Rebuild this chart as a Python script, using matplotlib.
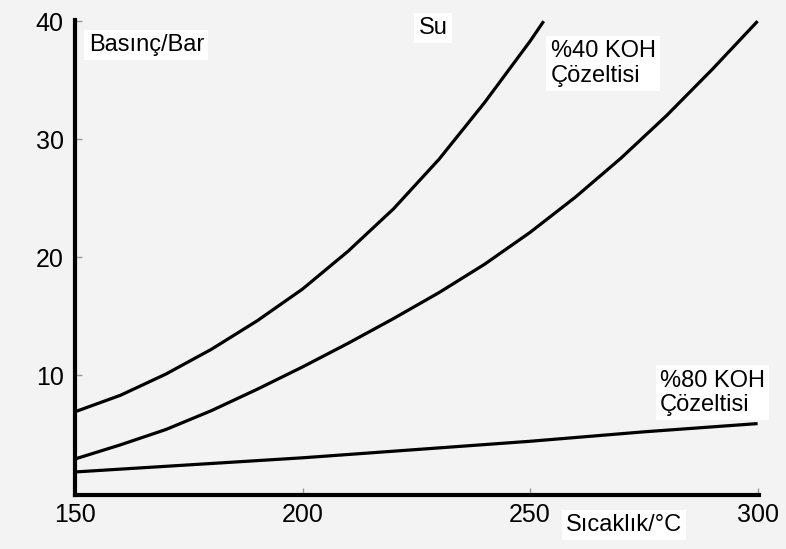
import matplotlib.pyplot as plt

plt.rcParams["font.family"] = ["Liberation Sans", "DejaVu Sans"]

# values
su_temp = [150, 160, 170, 180, 190, 200, 210, 220, 230, 240, 250, 253]
su_bar = [6.9, 8.3, 10.1, 12.2, 14.6, 17.3, 20.5, 24.1, 28.3, 33.1, 38.3, 40.0]

koh40_temp = [150, 160, 170, 180, 190, 200, 210, 220, 230, 240, 250, 260, 270, 280, 290, 300]
koh40_bar = [2.9, 4.1, 5.4, 7.0, 8.8, 10.7, 12.7, 14.8, 17.0, 19.4, 22.1, 25.1, 28.4, 32.0, 35.9, 40.0]

koh80_temp = [150, 175, 200, 225, 250, 275, 300]
koh80_bar = [1.8, 2.4, 3.0, 3.7, 4.4, 5.2, 5.9]

x_ticks = [150, 200, 250, 300]
y_ticks = [10, 20, 30, 40]

bg = "#f3f3f3"
fig = plt.figure(figsize=(7.86, 5.49), dpi=100, facecolor=bg)
ax = fig.add_axes([0.0954, 0.0984, 0.8702, 0.8652])
ax.set_facecolor(bg)

for t, p in [(su_temp, su_bar), (koh40_temp, koh40_bar), (koh80_temp, koh80_bar)]:
    ax.plot(t, p, color="black", lw=2.3, solid_capstyle="butt",
            solid_joinstyle="round", clip_on=False)

ax.set_xlim(150, 300.3)
ax.set_ylim(-0.15, 40.1)
ax.set_xticks(x_ticks)
ax.set_yticks(y_ticks)
ax.tick_params(direction="in", length=5, width=1, color="#999999",
               labelsize=18, pad=8)
ax.tick_params(axis="x", pad=6)

for side in ["top", "right"]:
    ax.spines[side].set_visible(False)
for side in ["left", "bottom"]:
    ax.spines[side].set_linewidth(3)
    ax.spines[side].set_color("black")

box = dict(facecolor="white", edgecolor="none", pad=3)
ax.text(153, 38.0, "Basınç/Bar", fontsize=17, va="center", ha="left", bbox=box)
ax.text(225.5, 39.4, "Su", fontsize=17, va="center", ha="left", bbox=box)
ax.text(254.5, 36.4, "%40 KOH\nÇözeltisi", fontsize=17, va="center", ha="left",
        linespacing=1.15, bbox=box)
ax.text(278.5, 8.5, "%80 KOH\nÇözeltisi", fontsize=17, va="center", ha="left",
        linespacing=1.15, bbox=box)
fig.text(566 / 786, 1 - 525 / 549, "Sıcaklık/°C", fontsize=17, va="center",
         ha="left", bbox=box)

fig.savefig("out.png", dpi=100, facecolor=bg)
